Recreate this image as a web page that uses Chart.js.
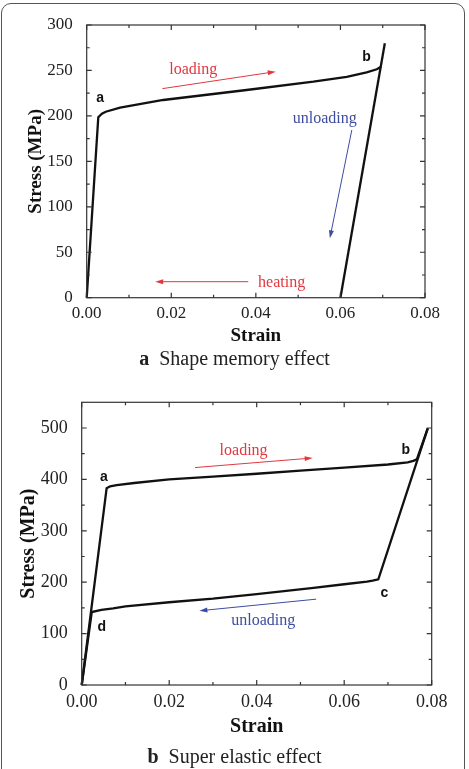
<!DOCTYPE html>
<html>
<head>
<meta charset="utf-8">
<script src="https://cdn.jsdelivr.net/npm/chart.js@4.4.1/dist/chart.umd.min.js"></script>
<style>
  body { margin: 0; background: #fff; width: 469px; height: 769px; overflow: hidden; position: relative; font-family: "Liberation Serif", serif; }
  #frame { position: absolute; left: 1px; top: 3px; width: 462px; height: 820px; border: 1.4px solid #555; border-radius: 10px; }
  .box { position: absolute; left: 0; width: 469px; }
  #boxA { top: 0; height: 380px; }
  #boxB { top: 380px; height: 389px; }
  .cap { position: absolute; left: 0; width: 469px; text-align: center; font-size: 20px; line-height: 22px; color: #222; }
  .cap b { margin-right: 10px; }
</style>
</head>
<body>
<div id="frame"></div>
<div class="box" id="boxA"><canvas id="chartA" width="469" height="380"></canvas></div>
<div class="box" id="boxB"><canvas id="chartB" width="469" height="389"></canvas></div>
<div class="cap" style="top:347px"><b>a</b>Shape memory effect</div>
<div class="cap" style="top:745px"><b>b</b>Super elastic effect</div>

<script>
// --- chart a : shape memory effect ---
var loadStrainA = [0, 0.00274, 0.0036, 0.0045, 0.0079, 0.0181, 0.0378, 0.0536, 0.0615, 0.0662, 0.0686, 0.0696];
var loadStressA = [0, 198.5, 202.5, 204.6, 209, 217.5, 228.5, 237.6, 243, 248, 251.3, 254];
var unloadStrainA = [0.0705, 0.060];
var unloadStressA = [280, 0];

var markA = ['a', 'b'];
var markAX = [0.0032, 0.0662];
var markAY = [219, 264.5];
var wordA = ['loading', 'unloading', 'heating'];
var wordAX = [0.0252, 0.0563, 0.0461];
var wordAY = [250.5, 197, 16.5];
var arrowAFrom = [[0.0179, 230], [0.0627, 184.5], [0.0382, 17.6]];
var arrowATo = [[0.0447, 248.7], [0.0575, 65.3], [0.0162, 17.6]];

// --- chart b : super elastic effect ---
var loadStrainB = [0, 0.0057, 0.0065, 0.008, 0.012, 0.02, 0.03, 0.04, 0.05, 0.06, 0.07, 0.0745, 0.0758, 0.0766, 0.0791];
var loadStressB = [0, 383, 386.5, 389, 393, 400, 405.5, 411, 417, 423, 429, 433, 436, 439, 499.4];
var unloadStrainB = [0.0791, 0.0678, 0.0665, 0.0652, 0.06, 0.053, 0.04, 0.03, 0.02, 0.01, 0.0072, 0.0045, 0.0023, 0];
var unloadStressB = [499.4, 205.6, 203, 201, 196, 189, 177, 168, 161, 153, 149, 146, 142, 0];

var markB = ['a', 'b', 'c', 'd'];
var markBX = [0.0051, 0.0741, 0.0692, 0.0046];
var markBY = [403.5, 456.6, 179, 112];
var wordB = ['loading', 'unloading'];
var wordBX = [0.037, 0.0415];
var wordBY = [456.6, 125];
var arrowBFrom = [[0.0259, 423], [0.0536, 167]];
var arrowBTo = [[0.0528, 441.7], [0.0269, 144.4]];

var strainTicks = ['0.00', '0.02', '0.04', '0.06', '0.08'];

var RED = '#e3363e';
var BLUE = '#3d4c9f';

function pts(xs, ys) {
  return xs.map(function (x, i) { return { x: x, y: ys[i] }; });
}

// box + inward ticks on all four sides
var frameTicks = {
  id: 'frameTicks',
  afterDatasetsDraw: function (chart) {
    var ctx = chart.ctx, a = chart.chartArea;
    var xs = chart.scales.x, ys = chart.scales.y;
    ctx.save();
    ctx.strokeStyle = '#333';
    ctx.lineWidth = 1.2;
    ctx.strokeRect(a.left, a.top, a.right - a.left, a.bottom - a.top);
    ctx.beginPath();
    function marks(scale, horiz) {
      var t = scale.ticks.map(function (k) { return k.value; });
      for (var i = 0; i < t.length; i++) {
        var list = [[t[i], 5]];
        if (i < t.length - 1) list.push([(t[i] + t[i + 1]) / 2, 3]);
        list.forEach(function (m) {
          var p = scale.getPixelForValue(m[0]);
          if (horiz) {
            ctx.moveTo(p, a.bottom); ctx.lineTo(p, a.bottom - m[1]);
            ctx.moveTo(p, a.top); ctx.lineTo(p, a.top + m[1]);
          } else {
            ctx.moveTo(a.left, p); ctx.lineTo(a.left + m[1], p);
            ctx.moveTo(a.right, p); ctx.lineTo(a.right - m[1], p);
          }
        });
      }
    }
    marks(xs, true);
    marks(ys, false);
    ctx.stroke();
    ctx.restore();
  }
};

// labels, words and arrows in data coordinates
var notes = {
  id: 'notes',
  afterDatasetsDraw: function (chart, args, o) {
    var ctx = chart.ctx, xs = chart.scales.x, ys = chart.scales.y;
    ctx.save();
    ctx.textAlign = 'center';
    ctx.textBaseline = 'middle';
    ctx.fillStyle = '#111';
    ctx.font = 'bold 14px "Liberation Sans", Arial, sans-serif';
    o.marks.forEach(function (m) {
      ctx.fillText(m.text, xs.getPixelForValue(m.x), ys.getPixelForValue(m.y));
    });
    ctx.font = '16px "Liberation Serif", serif';
    o.words.forEach(function (w) {
      ctx.fillStyle = w.color;
      ctx.fillText(w.text, xs.getPixelForValue(w.x), ys.getPixelForValue(w.y));
    });
    o.arrows.forEach(function (r) {
      var x1 = xs.getPixelForValue(r.from[0]), y1 = ys.getPixelForValue(r.from[1]);
      var x2 = xs.getPixelForValue(r.to[0]), y2 = ys.getPixelForValue(r.to[1]);
      var ang = Math.atan2(y2 - y1, x2 - x1);
      ctx.strokeStyle = r.color;
      ctx.fillStyle = r.color;
      ctx.lineWidth = 1;
      ctx.beginPath();
      ctx.moveTo(x1, y1);
      ctx.lineTo(x2 - 6 * Math.cos(ang), y2 - 6 * Math.sin(ang));
      ctx.stroke();
      ctx.beginPath();
      ctx.moveTo(x2, y2);
      ctx.lineTo(x2 - 8 * Math.cos(ang) + 2.5 * Math.sin(ang), y2 - 8 * Math.sin(ang) - 2.5 * Math.cos(ang));
      ctx.lineTo(x2 - 8 * Math.cos(ang) - 2.5 * Math.sin(ang), y2 - 8 * Math.sin(ang) + 2.5 * Math.cos(ang));
      ctx.closePath();
      ctx.fill();
    });
    ctx.restore();
  }
};

function lineSet(data) {
  return { data: data, showLine: true, borderColor: '#111', borderWidth: 2.3, pointRadius: 0, tension: 0, clip: false };
}

function makeChart(id, cfg) {
  var serif = '"Liberation Serif", "Times New Roman", serif';
  return new Chart(document.getElementById(id), {
    type: 'scatter',
    data: { datasets: cfg.sets.map(lineSet) },
    options: {
      responsive: false,
      animation: false,
      layout: { padding: cfg.pad },
      plugins: {
        legend: { display: false },
        tooltip: { enabled: false },
        notes: cfg.notes
      },
      scales: {
        x: {
          type: 'linear', min: 0, max: 0.08,
          afterFit: function (s) { s.height = cfg.xh; },
          afterBuildTicks: function (s) { s.ticks = strainTicks.map(function (t) { return { value: parseFloat(t) }; }); },
          grid: { display: false },
          border: { display: false },
          ticks: {
            color: '#222', padding: cfg.xpad, maxRotation: 0, autoSkip: false,
            font: { family: serif, size: cfg.tick },
            callback: function (v, i) { return strainTicks[i]; }
          },
          title: { display: true, text: 'Strain', color: '#111', font: { family: serif, size: cfg.title, weight: 'bold' }, padding: { top: 0, bottom: cfg.xtp } }
        },
        y: {
          type: 'linear', min: 0, max: cfg.ymax,
          afterFit: function (s) { s.width = cfg.yw; },
          afterBuildTicks: function (s) { s.ticks = s.ticks.filter(function (t) { return t.value <= cfg.ylast; }); },
          grid: { display: false },
          border: { display: false },
          ticks: {
            color: '#222', padding: cfg.ypad, stepSize: cfg.ystep,
            font: { family: serif, size: cfg.tick }
          },
          title: { display: true, text: 'Stress (MPa)', color: '#111', font: { family: serif, size: cfg.title, weight: 'bold' }, padding: { top: cfg.ytp, bottom: 0 } }
        }
      }
    },
    plugins: [frameTicks, notes]
  });
}

function buildNotes(mk, mx, my, wd, wx, wy, wc, af, at, ac) {
  return {
    marks: mk.map(function (t, i) { return { text: t, x: mx[i], y: my[i] }; }),
    words: wd.map(function (t, i) { return { text: t, x: wx[i], y: wy[i], color: wc[i] }; }),
    arrows: af.map(function (f, i) { return { from: f, to: at[i], color: ac[i] }; })
  };
}

makeChart('chartA', {
  sets: [pts(loadStrainA, loadStressA), pts(unloadStrainA, unloadStressA)],
  pad: { left: 0, top: 25, right: 44, bottom: 0 },
  xh: 82.3, yw: 86.7, ymax: 300, ylast: 300, ystep: 50,
  tick: 17, title: 19, xpad: -2, ypad: 6, xtp: 32.6, ytp: 24.6,
  notes: buildNotes(markA, markAX, markAY, wordA, wordAX, wordAY, [RED, BLUE, RED],
    arrowAFrom, arrowATo, [RED, BLUE, RED])
});

makeChart('chartB', {
  sets: [pts(loadStrainB, loadStressB), pts(unloadStrainB, unloadStressB)],
  pad: { left: 0, top: 22.3, right: 37.3, bottom: 0 },
  xh: 84, yw: 81.7, ymax: 550, ylast: 500, ystep: 100,
  tick: 18, title: 20, xpad: -2, ypad: 6, xtp: 30.5, ytp: 17,
  notes: buildNotes(markB, markBX, markBY, wordB, wordBX, wordBY, [RED, BLUE],
    arrowBFrom, arrowBTo, [RED, BLUE])
});
</script>
</body>
</html>
